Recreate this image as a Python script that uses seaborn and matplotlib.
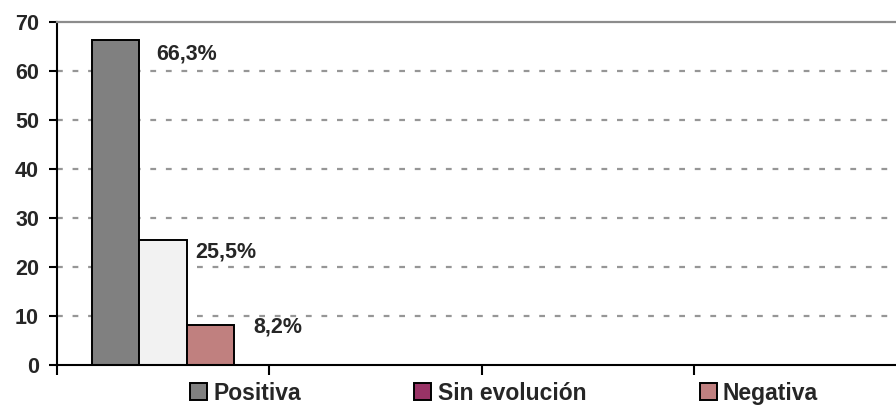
import numpy as np
import pandas as pd
import matplotlib
matplotlib.use("Agg")
import matplotlib.pyplot as plt
import matplotlib.patches as mpatches
import seaborn as sns

# данные
categorias = ["Positiva", "Sin evolución", "Negativa"]
valores = [66.3, 25.5, 8.2]
etiquetas = ["66,3%", "25,5%", "8,2%"]
y_ticks = [0, 10, 20, 30, 40, 50, 60, 70]

# цвета столбцов и легенды (в оригинале легенда не совпадает со столбцами)
colores_barras = ["#808080", "#F2F2F2", "#C0807F"]
colores_leyenda = ["#808080", "#993366", "#C08080"]

sns.set_theme(style="white")
plt.rcParams['font.family'] = ['Liberation Sans', 'DejaVu Sans']
plt.rcParams['font.weight'] = 'bold'

df = pd.DataFrame({"grupo": ["g"] * 3, "categoria": categorias, "valor": valores})

fig = plt.figure(figsize=(8.96, 4.08), dpi=100)
ax = fig.add_axes([57 / 896, 1 - 365 / 408, (906 - 57) / 896, (365 - 22) / 408])

sns.barplot(data=df, x="grupo", y="valor", hue="categoria", hue_order=categorias,
            palette=colores_barras, width=0.67, edgecolor="black", linewidth=1.4,
            saturation=1, legend=False, ax=ax)

ax.set_xlim(-0.5, 3.5)
ax.set_ylim(0, 70)
ax.set_yticks(y_ticks)
ax.set_xticks([])
ax.set_xticks([-0.5, 0.5, 1.5, 2.5, 3.5], minor=True)
ax.set_xlabel("")
ax.set_ylabel("")

# сетка
ax.set_axisbelow(True)
for v in y_ticks[1:-1]:
    ax.axhline(v, color="#969696", lw=1.6, ls=(0, (2.6, 4.4)), zorder=0)

for s in ["left", "bottom"]:
    ax.spines[s].set_color("black")
    ax.spines[s].set_linewidth(1.5)
ax.spines["top"].set_color("#8c8c8c")
ax.spines["top"].set_linewidth(1.6)
ax.spines["right"].set_visible(False)

ax.tick_params(axis="y", which="major", direction="out", length=6, width=1.5,
               color="black", pad=7, labelsize=15.5, left=True)
ax.tick_params(axis="x", which="minor", direction="out", length=7, width=1.5,
               color="black", bottom=True)
for t in ax.get_yticklabels():
    t.set_fontweight("bold")

# подписи над столбцами
desplaz = [(12, -10), (6, -8.5), (14, -1.5)]
for rect, txt, (dx, dy) in zip(ax.patches, etiquetas, desplaz):
    ax.annotate(txt, xy=(rect.get_x() + rect.get_width(), rect.get_height()),
                xytext=(dx, dy), textcoords="offset points",
                ha="left", va="center", fontsize=15.5, fontweight="bold")

handles = [mpatches.Patch(facecolor=c, edgecolor="black", linewidth=1.4)
           for c in colores_leyenda]
fig.legend(handles, categorias, loc="center", bbox_to_anchor=(0.5625, 0.036),
           ncol=3, frameon=False, handlelength=0.74,
           handleheight=0.74, handletextpad=0.28, columnspacing=4.95,
           borderpad=0.2, prop={"weight": "bold", "size": 16.5})

fig.savefig("out.png", dpi=100)
